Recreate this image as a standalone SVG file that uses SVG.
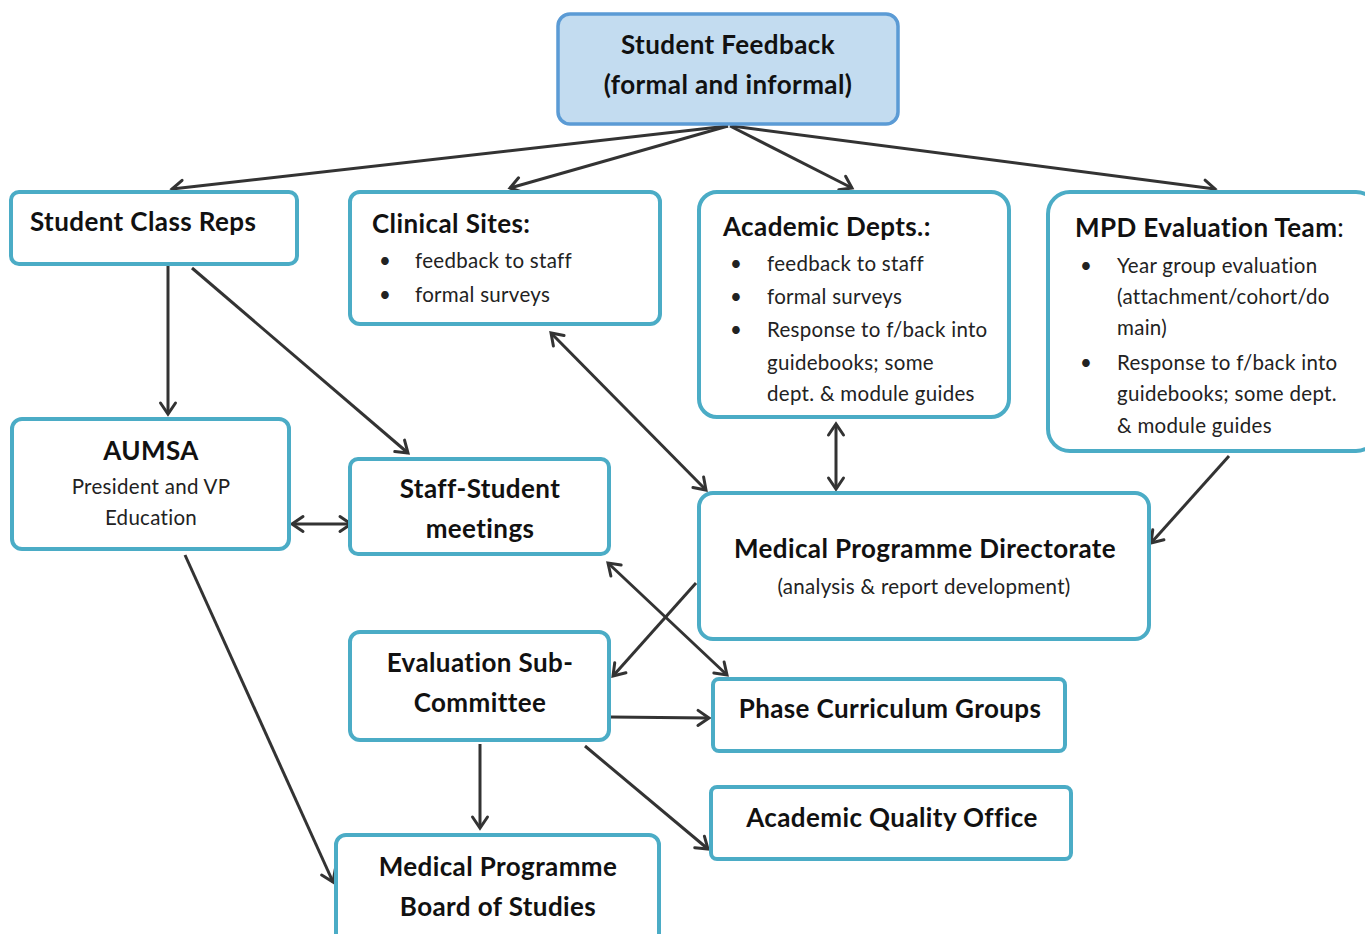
<svg xmlns="http://www.w3.org/2000/svg" width="1365" height="934" viewBox="0 0 1365 934">
  <style>
    .box { fill: #ffffff; stroke: #4BACC6; stroke-width: 4; }
    .top { fill: #C3DCF0; stroke: #5B9BD5; stroke-width: 3.5; }
    .t { font-family: Lato, "Open Sans", "Liberation Sans", sans-serif; fill: #111; }
    .h { font-weight: bold; font-size: 26px; letter-spacing: 0.4px; }
    .s { font-size: 20.5px; letter-spacing: 0.3px; fill: #222; }
    .c { text-anchor: middle; }
    .link { fill: none; stroke: #333; stroke-width: 3; }
  </style>
  <defs>
    <marker id="arr" viewBox="-14 -10 16 20" refX="0" refY="0" markerWidth="16" markerHeight="20" markerUnits="userSpaceOnUse" orient="auto-start-reverse" overflow="visible">
      <path d="M-11,-7.5 L0,0 L-11,7.5" fill="none" stroke="#333" stroke-width="3" stroke-linecap="round"/>
    </marker>
  </defs>
  <rect width="1365" height="934" fill="#ffffff"/>

  <!-- connectors -->
  <g id="connectors">
    <line class="link" x1="728" y1="126" x2="172" y2="189" marker-end="url(#arr)"/>
    <line class="link" x1="728" y1="126" x2="510" y2="188" marker-end="url(#arr)"/>
    <line class="link" x1="730" y1="126" x2="852" y2="188" marker-end="url(#arr)"/>
    <line class="link" x1="732" y1="126" x2="1215" y2="189" marker-end="url(#arr)"/>
    <line class="link" x1="168" y1="266" x2="168" y2="414" marker-end="url(#arr)"/>
    <line class="link" x1="192" y1="268" x2="408" y2="453" marker-end="url(#arr)"/>
    <line class="link" x1="551" y1="333" x2="706" y2="490" marker-start="url(#arr)" marker-end="url(#arr)"/>
    <line class="link" x1="836" y1="424" x2="836" y2="489" marker-start="url(#arr)" marker-end="url(#arr)"/>
    <line class="link" x1="1229" y1="456" x2="1151" y2="543" marker-end="url(#arr)"/>
    <line class="link" x1="292" y1="524" x2="351" y2="524" marker-start="url(#arr)" marker-end="url(#arr)"/>
    <line class="link" x1="185" y1="555" x2="333" y2="882" marker-end="url(#arr)"/>
    <line class="link" x1="696" y1="583" x2="613" y2="676" marker-end="url(#arr)"/>
    <line class="link" x1="608" y1="563" x2="727" y2="675" marker-start="url(#arr)" marker-end="url(#arr)"/>
    <line class="link" x1="610" y1="717" x2="709" y2="718" marker-end="url(#arr)"/>
    <line class="link" x1="480" y1="744" x2="480" y2="828" marker-end="url(#arr)"/>
    <line class="link" x1="585" y1="746" x2="708" y2="849" marker-end="url(#arr)"/>
  </g>

  <g id="student-feedback">
    <rect class="top" x="558" y="14" width="340" height="110" rx="12"/>
    <text class="t h c" x="728" y="54">Student Feedback</text>
    <text class="t h c" x="728" y="94">(formal and informal)</text>
  </g>

  <g id="class-reps">
    <rect class="box" x="11" y="192" width="286" height="72" rx="8"/>
    <text class="t h" x="30" y="231">Student Class Reps</text>
  </g>

  <g id="clinical-sites">
    <rect class="box" x="350" y="192" width="310" height="132" rx="10"/>
    <text class="t h" x="372" y="233">Clinical Sites:</text>
    <text class="t s" x="379" y="268">•</text>
    <text class="t s" x="415" y="268">feedback to staff</text>
    <text class="t s" x="379" y="302">•</text>
    <text class="t s" x="415" y="302">formal surveys</text>
  </g>

  <g id="academic-depts">
    <rect class="box" x="699" y="192" width="310" height="225" rx="18"/>
    <text class="t h" x="723" y="236">Academic Depts.:</text>
    <text class="t s" x="730" y="271">•</text>
    <text class="t s" x="767" y="271">feedback to staff</text>
    <text class="t s" x="730" y="304">•</text>
    <text class="t s" x="767" y="304">formal surveys</text>
    <text class="t s" x="730" y="337">•</text>
    <text class="t s" x="767" y="337">Response to f/back into</text>
    <text class="t s" x="767" y="370">guidebooks; some</text>
    <text class="t s" x="767" y="401">dept. &amp; module guides</text>
  </g>

  <g id="mpd-evaluation-team">
    <rect class="box" x="1048" y="192" width="330" height="259" rx="22"/>
    <text class="t h" x="1075" y="237">MPD Evaluation Team<tspan font-weight="normal">:</tspan></text>
    <text class="t s" x="1080" y="273">•</text>
    <text class="t s" x="1117" y="273">Year group evaluation</text>
    <text class="t s" x="1117" y="304">(attachment/cohort/do</text>
    <text class="t s" x="1117" y="335">main)</text>
    <text class="t s" x="1080" y="370">•</text>
    <text class="t s" x="1117" y="370">Response to f/back into</text>
    <text class="t s" x="1117" y="401">guidebooks; some dept.</text>
    <text class="t s" x="1117" y="433">&amp; module guides</text>
  </g>

  <g id="aumsa">
    <rect class="box" x="12" y="419" width="277" height="130" rx="10"/>
    <text class="t h c" x="151" y="460">AUMSA</text>
    <text class="t s c" x="151" y="494">President and VP</text>
    <text class="t s c" x="151" y="525">Education</text>
  </g>

  <g id="staff-student">
    <rect class="box" x="350" y="459" width="259" height="95" rx="8"/>
    <text class="t h c" x="480" y="498">Staff-Student</text>
    <text class="t h c" x="480" y="538">meetings</text>
  </g>

  <g id="directorate">
    <rect class="box" x="699" y="493" width="450" height="146" rx="14"/>
    <text class="t h c" x="925" y="558">Medical Programme Directorate</text>
    <text class="t s c" x="924" y="594">(analysis &amp; report development)</text>
  </g>

  <g id="evaluation-sub-committee">
    <rect class="box" x="350" y="632" width="259" height="108" rx="10"/>
    <text class="t h c" x="480" y="672">Evaluation Sub-</text>
    <text class="t h c" x="480" y="712">Committee</text>
  </g>

  <g id="phase-curriculum">
    <rect class="box" x="713" y="679" width="352" height="72" rx="6"/>
    <text class="t h c" x="890" y="718">Phase Curriculum Groups</text>
  </g>

  <g id="academic-quality">
    <rect class="box" x="711" y="787" width="360" height="72" rx="6"/>
    <text class="t h c" x="892" y="827">Academic Quality Office</text>
  </g>

  <g id="board-of-studies">
    <rect class="box" x="336" y="835" width="323" height="110" rx="10"/>
    <text class="t h c" x="498" y="876">Medical Programme</text>
    <text class="t h c" x="498" y="916">Board of Studies</text>
  </g>
</svg>
